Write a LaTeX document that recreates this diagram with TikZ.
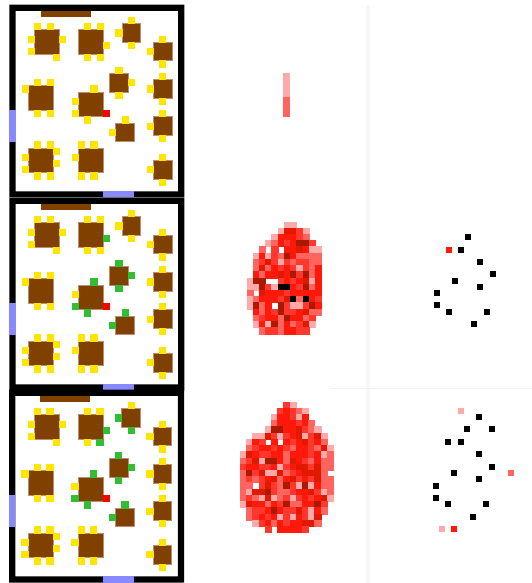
\documentclass[tikz,border=0pt]{standalone}

\definecolor{wood}{RGB}{127,64,0}
\definecolor{woodedge}{RGB}{190,140,110}
\definecolor{seatyellow}{RGB}{255,230,0}
\definecolor{seatgreen}{RGB}{50,190,50}
\definecolor{seatred}{RGB}{255,0,0}
\definecolor{doorblue}{RGB}{136,136,255}
\definecolor{heat0}{RGB}{255,255,255}
\definecolor{heat1}{RGB}{255,170,170}
\definecolor{heat2}{RGB}{255,100,95}
\definecolor{heat3}{RGB}{255,55,45}
\definecolor{heat4}{RGB}{255,25,10}
\definecolor{heat5}{RGB}{225,25,0}
\definecolor{heat6}{RGB}{170,25,0}
\definecolor{heat7}{RGB}{0,0,0}

\tikzset{
  tablebox/.style={fill=wood,draw=woodedge,line width=0.4pt},
  chairbox/.style={fill=seatyellow,draw=seatyellow,line width=0.4pt},
  doorbox/.style={fill=doorblue},
  dotbox/.style={minimum size=6.2pt,inner sep=0pt,outer sep=0pt,fill=black}
}

\newcommand{\diner}[3]{
\begin{scope}[shift={(#1,#2)},x=6.25pt,y=-6.22pt]
\fill[even odd rule] (0,0) rectangle (28,31) (1,1) rectangle (27,30);
\fill[doorbox] (0,17) rectangle (1,22);
\fill[doorbox] (15,30) rectangle (20,31);
\fill[fill=wood] (5,1) rectangle (13,2);
\foreach \i/\j in {4/4,11/4,3/13,11/14,3/23,11/23}
  \filldraw[tablebox] (\i,\j) rectangle +(4,4);
\foreach \i/\j in {18/3,23/6,16/11,23/12,17/19,23/18,23/25}
  \filldraw[tablebox] (\i,\j) rectangle +(3,3);
\foreach \i/\j in {4/3,6/3,3/5,3/7,8/5,7/8,12/3,14/3,15/6,12/8,14/8,19/2,17/4,19/6,
    24/5,22/7,24/9,17/10,19/12,17/14,24/11,22/13,24/15,4/12,6/12,2/13,4/17,6/17,
    13/13,10/15,10/17,12/18,18/18,16/20,24/17,22/19,24/21,4/22,6/22,7/23,7/25,2/24,2/26,
    4/27,6/27,11/22,13/22,10/24,11/27,13/27,24/24,22/26,24/28}
  \filldraw[chairbox] (\i,\j) rectangle +(1,1);
\foreach \i/\j/\c in {#3}
  \filldraw[fill=\c,draw=\c,line width=0.4pt] (\i,\j) rectangle +(1,1);
\end{scope}
}

\newcommand{\heatmap}[3]{
\begin{scope}[shift={(#1,#2)},x=6.22pt,y=-6.22pt]
\foreach \cells [count=\j from 0] in {#3}
  \foreach \c [count=\i from 0] in \cells {
    \ifnum\c>0
      \filldraw[fill=heat\c,draw=heat\c,line width=0.3pt] (\i,\j) rectangle +(1,1);
    \fi
  }
\end{scope}
}

\begin{document}
\begin{tikzpicture}[x=1pt,y=-1pt]

\useasboundingbox (0,0) rectangle (532,583);

\fill[black!3] (366,5) rectangle (369.5,583);
\draw[black!5,line width=0.7pt] (330,388) -- (532,388);

\diner{9.33}{4.67}{15/17/seatred}
\diner{9.33}{197.7}{15/6/seatgreen,17/10/seatgreen,19/12/seatgreen,17/14/seatgreen,
  13/13/seatgreen,10/17/seatgreen,12/18/seatgreen,18/18/seatgreen,16/20/seatgreen,15/17/seatred}
\diner{9}{389.7}{15/6/seatgreen,14/8/seatgreen,17/4/seatgreen,19/6/seatgreen,17/10/seatgreen,
  19/12/seatgreen,17/14/seatgreen,13/13/seatgreen,10/17/seatgreen,12/18/seatgreen,
  18/18/seatgreen,16/20/seatgreen,15/17/seatred}

\heatmap{282.7}{72.7}{{1},{1},{1},{1},{2},{2},{2}}

\heatmap{246.7}{221.7}{
{0,0,0,0,0,0,1,1,0,0,0,0},
{0,0,0,0,0,1,5,5,3,1,0,0},
{0,0,0,0,1,4,4,4,3,2,0,0},
{0,0,0,1,2,4,3,4,6,6,3,0},
{0,0,2,0,3,0,4,4,5,4,1,1},
{0,1,4,1,3,2,6,4,2,2,2,2},
{0,2,3,5,3,1,3,2,3,3,2,2},
{0,2,5,2,4,3,4,3,1,3,2,4},
{0,4,2,4,4,5,4,6,3,6,2,4},
{1,6,6,0,0,3,4,3,4,5,1,4},
{1,1,6,3,1,7,7,4,3,6,2,4},
{2,0,5,4,4,4,3,4,4,4,4,4},
{1,2,4,4,4,3,5,7,2,7,4,3},
{1,6,2,4,0,6,3,1,1,3,6,4},
{0,4,2,4,3,6,3,3,4,5,2,2},
{0,2,3,4,4,2,6,4,4,2,3,0},
{0,1,4,1,6,2,4,2,3,5,1,0},
{0,0,2,3,3,2,4,4,3,3,0,0}}

\heatmap{240}{401.7}{
{0,0,0,0,0,0,0,3,1,0,0,0,0,0,0},
{0,0,0,0,0,0,3,4,3,2,1,0,0,0,0},
{0,0,0,0,0,1,4,4,3,1,4,0,0,0,0},
{0,0,0,0,0,2,4,4,4,3,4,2,0,0,0},
{0,0,0,0,1,6,6,4,4,5,3,2,1,0,0},
{0,0,1,1,5,3,1,3,4,5,1,3,5,1,0},
{0,1,4,3,0,4,0,4,3,4,5,3,4,2,0},
{0,2,3,4,4,3,4,3,2,4,4,3,2,5,1},
{1,5,4,3,3,4,4,2,4,4,4,3,4,1,2},
{2,3,5,1,6,6,4,2,5,4,3,2,4,2,2},
{3,4,4,3,3,4,1,3,4,5,5,3,5,2,2},
{2,6,3,5,1,1,5,2,3,4,5,5,5,2,0},
{2,3,2,3,4,5,2,4,5,3,4,3,5,2,2},
{2,2,0,3,5,3,2,6,3,1,6,1,4,2,2},
{2,1,5,5,6,3,2,2,3,4,4,5,3,1,2},
{2,3,2,1,5,1,2,3,1,3,4,3,4,5,1},
{1,5,4,4,2,4,3,6,2,2,4,4,6,3,0},
{0,2,3,3,4,6,4,3,3,5,3,1,4,2,0},
{0,2,3,4,3,4,1,3,1,4,3,1,5,0,0},
{0,0,1,3,4,2,4,3,4,4,5,5,2,0,0},
{0,0,0,0,3,0,4,4,4,4,3,0,0,0,0}}

\foreach \x/\y in {467.7/237.3,461.3/249.7,480.3/262,493/274.3,455.3/280.7,480.3/286.7,436.7/293,
    436.7/305.3,449/311.7,486.7/311.7,473.7/324}
  \node[dotbox] at (\x,\y) {};
\node[dotbox,fill=heat4] at (449,249.7) {};

\foreach \x/\y in {479.3/417,467/429.3,492/429.3,448.3/442,460.7/442,479.3/454.3,492/466.7,454.3/473.3,
    479.3/479.3,435.7/485.7,435.7/498.3,448.3/504.3,485.7/504.3,473.3/517}
  \node[dotbox] at (\x,\y) {};
\node[dotbox,fill=heat1] at (460.7,410.7) {};
\node[dotbox,fill=heat2] at (511,473.3) {};
\node[dotbox,fill=heat1] at (442,529.3) {};
\node[dotbox,fill=heat4] at (454.3,529.3) {};

\end{tikzpicture}
\end{document}
